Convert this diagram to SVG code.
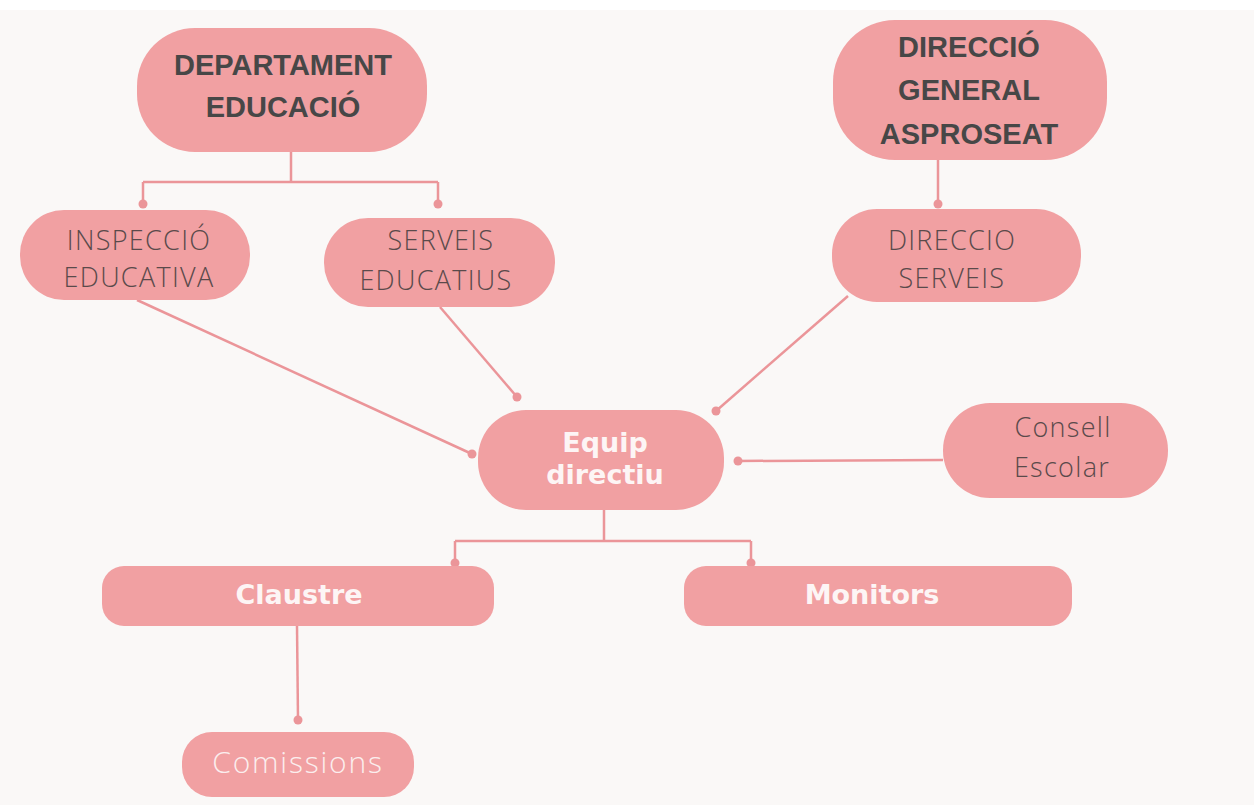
<svg xmlns="http://www.w3.org/2000/svg" width="1254" height="805" viewBox="0 0 1254 805">
<style>
.n{fill:#f1a0a2}
.c{fill:none;stroke:#eb9599;stroke-width:2.5}
.d{fill:#eb9599}
.b{font-family:"Liberation Sans",Arial,sans-serif;font-weight:bold;font-size:29px;fill:#474747;text-anchor:middle}
.l{font-family:"Open Sans","Liberation Sans",sans-serif;font-weight:300;font-size:27px;letter-spacing:1.3px;fill:#5a4a4b;text-anchor:middle}
.w{font-family:"DejaVu Sans","Liberation Sans",sans-serif;font-weight:bold;font-size:27px;fill:#fdf5f5;text-anchor:middle}
.lw{font-family:"Open Sans","Liberation Sans",sans-serif;font-weight:300;font-size:30px;letter-spacing:1.8px;fill:#fbeeee;text-anchor:middle}
</style>
<rect width="1254" height="805" fill="#faf8f7"/>
<rect width="1254" height="10" fill="#ffffff"/>
<g id="connectors">
<path class="c" d="M291 152V182M143 182H438M143 182V204M438 182V204"/>
<circle class="d" cx="143" cy="204" r="4.5"/><circle class="d" cx="438" cy="204" r="4.5"/>
<path class="c" d="M938 160V204"/><circle class="d" cx="938" cy="204" r="4.5"/>
<path class="c" d="M137 300L472 454"/><circle class="d" cx="472" cy="454" r="4.5"/>
<path class="c" d="M440 307L517 397"/><circle class="d" cx="517" cy="397" r="4.5"/>
<path class="c" d="M848 296L716 411"/><circle class="d" cx="716" cy="411" r="4.5"/>
<path class="c" d="M943 460L738 461"/><circle class="d" cx="738" cy="461" r="4.5"/>
<path class="c" d="M604 510V541M455 541H751M455 541V563M751 541V563"/>
<circle class="d" cx="455" cy="563" r="4.5"/><circle class="d" cx="751" cy="563" r="4.5"/>
<path class="c" d="M297 626L298 720"/><circle class="d" cx="298" cy="720" r="4.5"/>
</g>
<g id="departament"><rect class="n" x="137" y="28" width="290" height="124" rx="58"/>
<text class="b" x="283" y="75">DEPARTAMENT</text><text class="b" x="283" y="117">EDUCACIÓ</text></g>
<g id="direccio-general"><rect class="n" x="833" y="20" width="274" height="140" rx="62"/>
<text class="b" x="969" y="57">DIRECCIÓ</text><text class="b" x="969" y="100">GENERAL</text><text class="b" x="969" y="144">ASPROSEAT</text></g>
<g id="inspeccio"><rect class="n" x="20" y="210" width="230" height="90" rx="44"/>
<text class="l" x="139" y="250">INSPECCIÓ</text><text class="l" x="139" y="287">EDUCATIVA</text></g>
<g id="serveis"><rect class="n" x="324" y="218" width="231" height="89" rx="44"/>
<text class="l" x="441" y="250">SERVEIS</text><text class="l" x="436" y="290">EDUCATIUS</text></g>
<g id="direccio-serveis"><rect class="n" x="832" y="209" width="249" height="93" rx="45"/>
<text class="l" x="952" y="250">DIRECCIO</text><text class="l" x="952" y="288">SERVEIS</text></g>
<g id="equip"><rect class="n" x="478" y="410" width="246" height="100" rx="48"/>
<text class="w" x="605" y="452">Equip</text><text class="w" x="605" y="484">directiu</text></g>
<g id="consell"><rect class="n" x="943" y="403" width="225" height="95" rx="47"/>
<text class="l" x="1063" y="437">Consell</text><text class="l" x="1062" y="477">Escolar</text></g>
<g id="claustre"><rect class="n" x="102" y="566" width="392" height="60" rx="22"/>
<text class="w" x="299" y="604">Claustre</text></g>
<g id="monitors"><rect class="n" x="684" y="566" width="388" height="60" rx="22"/>
<text class="w" x="872" y="604">Monitors</text></g>
<g id="comissions"><rect class="n" x="182" y="732" width="232" height="65" rx="30"/>
<text class="lw" x="298" y="773">Comissions</text></g>
</svg>
